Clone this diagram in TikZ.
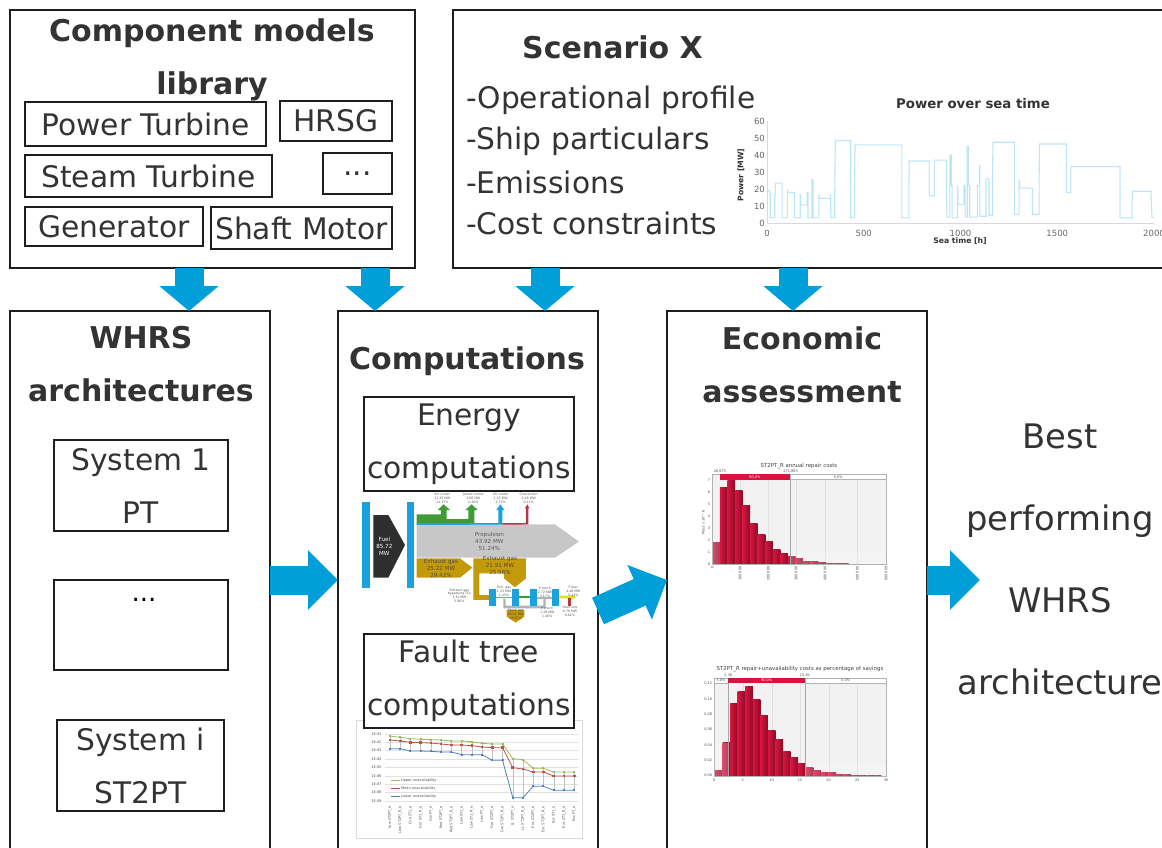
\documentclass[tikz,border=0pt]{standalone}
\usepackage{fontspec}
\setmainfont{DejaVu Sans}
\usetikzlibrary{arrows.meta}
\definecolor{flowblue}{HTML}{009FDA}
\definecolor{inkgray}{HTML}{333333}
\definecolor{frameblack}{HTML}{1E1E1E}
\definecolor{tracecyan}{HTML}{BCE5F5}
\definecolor{barlight}{HTML}{D6163F}
\definecolor{bardark}{HTML}{8E0A28}
\definecolor{goldband}{HTML}{C39A0A}
\definecolor{sankeyblue}{HTML}{1BA1DC}
\definecolor{greenband}{HTML}{3F9B35}
\definecolor{redband}{HTML}{B23A48}
\definecolor{upgreen}{HTML}{9BBB59}
\definecolor{midred}{HTML}{C0504D}
\definecolor{lowblue}{HTML}{4F81BD}
\tikzset{
  panel/.style={draw=frameblack,line width=1.7pt,anchor=north west,inner sep=0pt,outer sep=0pt},
  subbox/.style={draw=frameblack,line width=1.4pt,anchor=north west,inner sep=0pt,outer sep=0pt,text=inkgray,
    font=\fontsize{29.7}{53}\selectfont,align=center},
  headline/.style={text=inkgray,align=center,inner sep=0pt,font=\bfseries\fontsize{30}{53}\selectfont},
  plainline/.style={text=inkgray,anchor=west,inner sep=0pt,font=\fontsize{29.7}{36}\selectfont},
  flowarrow/.style={draw=flowblue,line width=29pt,-{Triangle[length=25pt,width=58pt,fill=flowblue]}},
  ticklabel/.style={text=black!60,inner sep=0pt,font=\fontsize{8.5}{9}\selectfont},
  axistitle/.style={text=inkgray,inner sep=0pt,font=\bfseries\fontsize{7.7}{9}\selectfont},
  tinylabel/.style={text=black!65,inner sep=0pt,align=center,font=\fontsize{3.2}{3.9}\selectfont},
  bandlabel/.style={inner sep=0pt,align=center,font=\fontsize{5.6}{7}\selectfont},
  minilabel/.style={text=black!70,inner sep=0pt,font=\fontsize{3.5}{4}\selectfont},
  histtitle/.style={text=black!75,inner sep=0pt,font=\fontsize{5.4}{6}\selectfont},
}
% one histogram bar per value in the list
\newcommand{\histbars}[3]{
  \foreach \t [count=\i from 0] in {#3} {
    \shade[left color=barlight,right color=bardark] ({#1+\i*22.7},\t) rectangle ({#1+(\i+1)*22.7},#2);
  }
}
\begin{document}
\begin{tikzpicture}[x=1pt,y=-1pt]
\useasboundingbox (0,0) rectangle (1162,847);
\clip (0,0) rectangle (1162,847);

% top boxes
\node[panel,minimum width=405pt,minimum height=258pt] (libbox) at (10,10) {};
\node[panel,minimum width=760pt,minimum height=258pt] (scenbox) at (453,10) {};
\node[headline] (libtitle) at (212,59.5) {Component models\\library};
\node[subbox,minimum width=241pt,minimum height=44pt] (ptbox) at (25,102) {Power Turbine};
\node[subbox,minimum width=112pt,minimum height=40pt] (hrsgbox) at (280,101) {HRSG};
\node[subbox,minimum width=247pt,minimum height=42pt] (stbox) at (25,155) {Steam Turbine};
\node[subbox,minimum width=69pt,minimum height=41pt] (morebox) at (323,153) {...};
\node[subbox,minimum width=178pt,minimum height=39pt] (genbox) at (25,207) {Generator};
\node[subbox,minimum width=181pt,minimum height=42pt] (smbox) at (211,207) {Shaft Motor};
\node[headline,anchor=west] (scentitle) at (522,47) {Scenario X};
\node[plainline] (opline) at (466,100) {-Operational profile};
\node[plainline] (shipline) at (466,141) {-Ship particulars};
\node[plainline] (emline) at (466,182) {-Emissions};
\node[plainline] (costline) at (466,223) {-Cost constraints};

% power profile
\node[text=inkgray,inner sep=0pt,font=\bfseries\fontsize{13.3}{15}\selectfont] (powertitle) at (973,104) {Power over sea time};
\begin{scope}[shift={(767,223)},x=0.1935pt,y=1.7pt]
\draw[black!15,line width=.6pt] (0,60) -- (0,0) -- (2000,0);
\foreach \v in {0,10,...,60} {
  \node[ticklabel,anchor=east] (ptick\v) at (-10,\v) {\v};
}
\foreach \v in {0,500,...,2000} {
  \node[ticklabel] (htick\v) at (\v,-6) {\v};
}
\draw[tracecyan,line width=1.1pt] (0,19) -- (15,19) -- (15,17) -- (17,17) -- (17,3) -- (40,3) -- (40,17) -- (43,17) -- (43,23.5) -- (78,23.5) -- (78,3) -- (105,3)
  -- (105,19) -- (108,18) -- (142,18) -- (142,3) -- (172,3) -- (172,17) -- (175,10.5) -- (208,10.5) -- (208,18) -- (212,18) -- (212,3) -- (232,3) -- (232,25.5) -- (238,25.5) -- (238,3)
  -- (268,3) -- (268,17) -- (272,14.5) -- (328,14.5) -- (328,17) -- (330,3) -- (350,3) -- (350,17) -- (353,48.5) -- (433,48.5) -- (433,3) -- (452,3) -- (452,16) -- (455,46)
  -- (697,46) -- (697,3) -- (733,3) -- (733,20) -- (735,36.5) -- (838,36.5) -- (838,16) -- (865,16) -- (865,37) -- (927,37) -- (927,17) -- (930,3.5) -- (945,3.5) -- (945,40)
  -- (952,40) -- (952,22) -- (957,22) -- (957,3) -- (985,3) -- (985,22) -- (988,11) -- (1018,11) -- (1018,22) -- (1024,22) -- (1024,3.5) -- (1035,3.5) -- (1035,45) -- (1040,45) -- (1040,22)
  -- (1048,22) -- (1048,3.5) -- (1088,3.5) -- (1088,22) -- (1098,22) -- (1098,34) -- (1100,34) -- (1100,4) -- (1132,4) -- (1132,26) -- (1145,26) -- (1147,25) -- (1147,4.5) -- (1165,4.5) -- (1165,25) -- (1168,47.5)
  -- (1278,47.5) -- (1278,25) -- (1280,5) -- (1303,5) -- (1303,25.5) -- (1308,20.5) -- (1372,20.5) -- (1372,5) -- (1406,5) -- (1406,20) -- (1408,46.5) -- (1547,46.5) -- (1547,18) -- (1570,18) -- (1570,33.2)
  -- (1824,33.2) -- (1824,3) -- (1887,3) -- (1887,15) -- (1890,18.7) -- (1985,18.7) -- (1985,16) -- (1990,3) -- (2000,3);
\end{scope}
\node[axistitle,rotate=90] (powerlabel) at (741,175) {Power [MW]};
\node[axistitle] (timelabel) at (960,241) {Sea time [h]};

% lower boxes
\node[panel,minimum width=260pt,minimum height=600pt] (whrsbox) at (10,311) {};
\node[panel,minimum width=260pt,minimum height=600pt] (compbox) at (338,311) {};
\node[panel,minimum width=260pt,minimum height=600pt] (econbox) at (667,311) {};
\node[headline] (whrstitle) at (141,364.5) {WHRS\\architectures};
\node[headline] (comptitle) at (467,361) {Computations};
\node[headline] (econtitle) at (802,365) {Economic\\assessment};

\node[subbox,minimum width=174pt,minimum height=91pt] (sys1box) at (54,440) {System 1\\PT};
\node[subbox,minimum width=174pt,minimum height=90pt] (sysdotsbox) at (54,580) {};
\node[text=black,inner sep=0pt,font=\fontsize{26}{30}\selectfont] (sysdots) at (144,600) {...};
\node[subbox,minimum width=167pt,minimum height=91pt] (sysibox) at (57,720) {System i\\ST2PT};

% sankey chart
\begin{scope}[shift={(355,495)},x=.3333pt,y=.3333pt,yscale=1]
\end{scope}
\begin{scope}[shift={(355,495)},x=.3333pt,y=-.3333pt]
\fill[sankeyblue] (22,22) rectangle (45,278);
\fill[sankeyblue] (155,22) rectangle (178,278);
\fill[black!82] (55,60) -- (100,60) -- (150,150) -- (100,248) -- (55,248) -- cycle;
\fill[greenband] (185,58) -- (258,58) -- (258,45) -- (248,45) -- (266,28) -- (285,45) -- (275,45) -- (275,72) -- (340,72) -- (340,45) -- (331,45) -- (350,28) -- (368,45) -- (358,45) -- (358,85) -- (185,85) -- cycle;
\fill[sankeyblue] (185,84) -- (430,84) -- (430,45) -- (424,45) -- (436,28) -- (448,45) -- (442,45) -- (442,90) -- (185,90) -- cycle;
\fill[redband] (442,84) -- (513,84) -- (513,40) -- (510,40) -- (517,28) -- (523,40) -- (520,40) -- (520,90) -- (442,90) -- cycle;
\fill[black!22] (185,90) -- (600,88) -- (672,140) -- (600,188) -- (185,188) -- cycle;
\fill[goldband] (185,190) -- (315,190) -- (352,218) -- (315,248) -- (185,248) -- cycle;
\fill[goldband] (355,190) -- (513,190) -- (513,250) -- (480,277) -- (447,250) -- (447,235) -- (373,235) -- (373,300) -- (402,300) -- (402,315) -- (355,315) -- cycle;
\fill[goldband] (424,305) rectangle (470,310);
\fill[goldband] (455,345) -- (508,345) -- (508,365) -- (482,383) -- (455,365) -- cycle;
\fill[greenband] (492,303) rectangle (525,308);
\fill[black!30] (546,306) rectangle (592,312);
\fill[black!30] (445,312) -- (452,312) -- (452,332) -- (565,332) -- (565,310) -- (572,310) -- (572,340) -- (445,340) -- cycle;
\fill[yellow!90!black] (612,302) -- (650,302) -- (650,298) -- (664,306) -- (650,314) -- (650,310) -- (612,310) -- cycle;
\fill[redband] (640,310) rectangle (648,332);
\foreach \x/\w in {402/22,470/22,525/21,592/20} {
  \fill[sankeyblue] (\x,281) rectangle (\x+\w,333);
}
\node[bandlabel,text=white] (fuellabel) at (88,155) {Fuel\\85.72\\MW};
\node[bandlabel,text=black!65] (proplabel) at (403,139) {Propulsion\\43.92 MW\\51.24\%};
\node[bandlabel,text=black!70] (exhleft) at (258,219) {Exhaust gas\\25.22 MW\\29.42\%};
\node[bandlabel,text=black!70] (exhright) at (435,212) {Exhaust gas\\21.91 MW\\25.56\%};
\node[tinylabel] (aircooler) at (262,11) {Air cooler\\12.33 MW\\14.37\%};
\node[tinylabel] (jacketcooler) at (355,11) {Jacket cooler\\3.66 MW\\4.26\%};
\node[tinylabel] (oilcooler) at (437,11) {Oil cooler\\2.10 MW\\2.37\%};
\node[tinylabel] (convection) at (521,11) {Convection\\0.18 MW\\0.21\%};
\node[tinylabel] (bypass) at (313,302) {Exhaust gas\\bypassing TCs\\3.31 MW\\3.86\%};
\node[tinylabel] (exhsmall) at (447,290) {Exh. gas\\1.23 MW\\1.43\%};
\node[tinylabel] (pmechup) at (570,292) {P mech\\2.72 MW\\3.17\%};
\node[tinylabel] (pmechlow) at (577,352) {P mech\\1.20 MW\\1.40\%};
\node[tinylabel] (pelec) at (655,288) {P elec\\4.40 MW\\5.13\%};
\node[tinylabel] (heatloss) at (645,350) {Heat loss\\0.70 MW\\0.82\%};
\node[tinylabel,text=black!75] (stackgas) at (482,357) {Stack gas\\20.22 MW\\23.61\%};
\end{scope}

% energy and fault tree boxes
\node[subbox,minimum width=210pt,minimum height=94pt] (energybox) at (364,397) {Energy\\computations};
\node[draw=black!15,line width=.8pt,inner sep=0pt,minimum width=226pt,minimum height=118pt,anchor=north west] (ftframe) at (356,720) {};
\node[subbox,fill=white,minimum width=210pt,minimum height=94pt] (faultbox) at (364,634) {Fault tree\\computations};

% fault tree chart
\begin{scope}[shift={(355,720)},x=.3333pt,y=-.3333pt]
\foreach \v [count=\i from 1] in {42,67,92,117,142,168,193,218,243} {
  \draw[black!12,line width=.4pt] (90,\v) -- (670,\v);
  \node[minilabel,anchor=east] (ftick\i) at (80,\v) {1E-0\i};
}
\foreach \up/\lo [count=\i from 0] in {48/86,52/86,56/93,58/93,59/94,60/96,63/96,63/104,65/104,70/104,72/121,72/121,116/233,119/233,145/199,145/199,156/211,156/211,156/211} {
  \draw[black!25,line width=.4pt] ({105+\i*30.7},\up) -- ({105+\i*30.7},\lo);
}
\draw[upgreen,line width=.8pt] (105,48) \foreach \v [count=\i from 0] in {48,52,56,58,59,60,63,63,65,70,72,72,116,119,145,145,156,156,156} { -- ({105+\i*30.7},\v) };
\draw[midred,line width=.8pt] (105,60) \foreach \v [count=\i from 0] in {60,63,67,68,69,72,75,75,77,81,83,83,143,147,156,156,168,168,168} { -- ({105+\i*30.7},\v) };
\draw[lowblue,line width=.8pt] (105,86) \foreach \v [count=\i from 0] in {86,86,93,93,94,96,96,104,104,104,121,121,233,233,199,199,211,211,211} { -- ({105+\i*30.7},\v) };
\foreach \v [count=\i from 0] in {48,52,56,58,59,60,63,63,65,70,72,72,116,119,145,145,156,156,156} {
  \fill[upgreen] ({105+\i*30.7-3},\v-3) rectangle ++(6,6);
}
\foreach \v [count=\i from 0] in {60,63,67,68,69,72,75,75,77,81,83,83,143,147,156,156,168,168,168} {
  \fill[midred] ({105+\i*30.7-4},\v-4) rectangle ++(8,8);
}
\foreach \v [count=\i from 0] in {86,86,93,93,94,96,96,104,104,104,121,121,233,233,199,199,211,211,211} {
  \fill[lowblue] ({105+\i*30.7-3},\v-3) rectangle ++(6,6);
}
\foreach \lab [count=\i from 0] in {Low ST2PT\_e,Low ST2PT\_R\_e,Gro ST1\_e,Gro ST1\_R\_e,Gro PT\_e,Red ST2PT\_e,Red ST2PT\_R\_e,Low ST1\_e,Low ST1\_R\_e,Low PT\_e,Gro ST2PT\_e,Gro ST2PT\_R\_e,LL ST2PT\_e,LL ST2PT\_R\_e,Exc ST2PT\_e,Exc ST2PT\_R\_e,Exc ST1\_e,Exc ST1\_R\_e,Exc PT\_e} {
  \node[minilabel,rotate=90,anchor=east] (fname\i) at ({105+\i*30.7},258) {\lab};
}
\draw[upgreen,line width=.8pt] (108,181) -- (135,181);
\draw[midred,line width=.8pt] (108,205) -- (135,205);
\draw[lowblue,line width=.8pt] (108,229) -- (135,229);
\node[minilabel,anchor=west] (fupper) at (138,181) {Upper unavailability};
\node[minilabel,anchor=west] (fmean) at (138,205) {Mean unavailability};
\node[minilabel,anchor=west] (flower) at (138,229) {Lower unavailability};
\end{scope}

% repair cost histogram
\begin{scope}[shift={(695,455)},x=.3333pt,y=-.3333pt]
\fill[black!5] (52,58) rectangle (575,328);
\foreach \v in {135,220,303,390,487} { \draw[black!12,line width=.3pt] (\v,74) -- (\v,328); }
\histbars{52}{328}{261,98,77,105,152,206,238,260,282,297,305,311,319,321,323,325,326,327}
\fill[white,opacity=.22] (52,261) rectangle (75,328);
\fill[white,opacity=.22] (287,290) rectangle (575,328);
\draw[black!30,line width=.5pt] (52,58) rectangle (575,328);
\draw[black!35,line width=.6pt] (287,58) -- (287,328);
\fill[barlight] (75,58) rectangle (287,74);
\draw[black!30,line width=.4pt,fill=white] (287,58) rectangle (575,74);
\foreach \v [count=\i from 0] in {328,292,256,220,183,147,111,75} {
  \node[minilabel,anchor=east] (rtick\i) at (46,\v) {\i};
}
\foreach \x/\lab in {52/0,135/100\,000,220/200\,000,303/300\,000,390/400\,000,487/500\,000,573/600\,000} {
  \node[minilabel,rotate=90,anchor=east] (rlab\x) at (\x,334) {\lab};
}
\node[minilabel,rotate=90] (rmass) at (25,203) {Mass x 10\^{}-6};
\node[histtitle] (rtitle) at (312,33) {ST2PT\_R annual repair costs};
\node[minilabel] (rleft) at (75,49) {26,675};
\node[minilabel] (rright) at (287,49) {271,863};
\node[minilabel,text=white] (rninety) at (180,66) {90,0\%};
\node[minilabel] (rfive) at (430,66) {5,0\%};
\end{scope}

% repair plus unavailability histogram
\begin{scope}[shift={(695,655)},x=.3333pt,y=-.3333pt]
\fill[black!5] (58,70) rectangle (575,363);
\foreach \v in {143,230,315,401,487} { \draw[black!12,line width=.3pt] (\v,84) -- (\v,363); }
\histbars{60}{363}{347,263,146,108,93,132,182,225,252,289,307,325,338,345,351,353,357,359,360,361,362,362}
\fill[white,opacity=.22] (60,263) rectangle (100,363);
\fill[white,opacity=.22] (330,325) rectangle (575,363);
\draw[black!30,line width=.5pt] (58,70) rectangle (575,363);
\draw[black!35,line width=.6pt] (100,70) -- (100,363);
\draw[black!35,line width=.6pt] (330,70) -- (330,363);
\draw[black!30,line width=.4pt,fill=white] (58,70) rectangle (100,84);
\fill[barlight] (100,70) rectangle (330,84);
\draw[black!30,line width=.4pt,fill=white] (330,70) rectangle (575,84);
\foreach \v/\lab [count=\i from 0] in {85/0{,}12,132/0{,}10,177/0{,}08,224/0{,}06,270/0{,}04,316/0{,}02,362/0{,}00} {
  \node[minilabel,anchor=east] (stick\i) at (52,\v) {\lab};
}
\foreach \x/\lab in {58/0,143/5,230/10,315/15,401/20,487/25,573/30} {
  \node[minilabel] (slab\x) at (\x,375) {\lab};
}
\node[histtitle] (stitle) at (315,42) {ST2PT\_R repair+unavailability costs as percentage of savings};
\node[minilabel] (sleft) at (100,60) {2,30};
\node[minilabel] (sright) at (330,60) {15,81};
\node[minilabel] (sfivea) at (78,77) {5,0\%};
\node[minilabel,text=white] (sninety) at (215,77) {90,0\%};
\node[minilabel] (sfiveb) at (452,77) {5,0\%};
\end{scope}

% result text
\node[text=inkgray,align=center,inner sep=0pt,font=\fontsize{33.8}{82}\selectfont] (bestnode) at (1060,559) {Best\\performing\\WHRS\\architecture};

% arrows between boxes
\coordinate (downa) at (189,0);
\coordinate (downb) at (375,0);
\coordinate (downc) at (545,0);
\coordinate (downd) at (793,0);
\coordinate (midline) at (0,580);
\coordinate (bestin) at (980,580);
\draw[flowarrow] (libbox.south -| downa) -- (whrsbox.north -| downa);
\draw[flowarrow] (libbox.south -| downb) -- (compbox.north -| downb);
\draw[flowarrow] (scenbox.south -| downc) -- (compbox.north -| downc);
\draw[flowarrow] (scenbox.south -| downd) -- (econbox.north -| downd);
\draw[flowarrow,-{Triangle[length=30pt,width=58pt,fill=flowblue]}] (whrsbox.east |- midline) -- (compbox.west |- midline);
\draw[flowarrow,-{Triangle[length=30pt,width=58pt,fill=flowblue]}] (compbox.west -| compbox.east |- midline) -- (econbox.west |- midline);
\draw[flowarrow,-{Triangle[length=30pt,width=58pt,fill=flowblue]}] (econbox.east |- midline) -- (bestin);
\end{tikzpicture}
\end{document}
